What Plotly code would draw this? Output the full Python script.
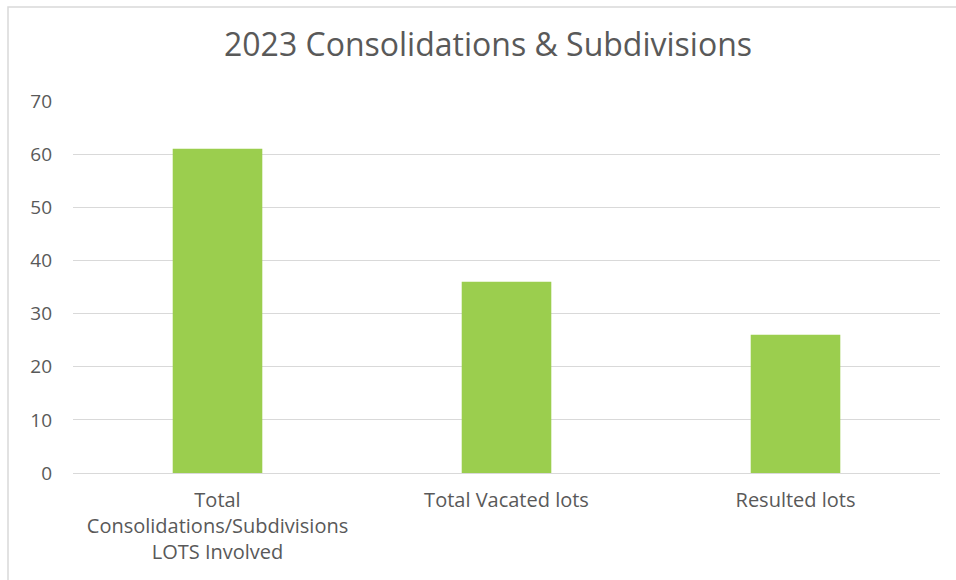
import plotly.graph_objects as go

categories = [
    "Total<br>Consolidations/Subdivisions<br>LOTS Involved",
    "Total Vacated lots",
    "Resulted lots",
]
values = [61, 36, 26]
y_ticks = [0, 10, 20, 30, 40, 50, 60, 70]

W, H = 956, 580
L, R, T, B = 73, 16, 101, 107
plot_w = W - L - R
plot_h = H - T - B

text_color = "#595959"
font_family = "'Open Sans', Lato, sans-serif"

fig = go.Figure(
    go.Bar(
        x=categories,
        y=values,
        marker=dict(color="#9BCE4E", line=dict(width=0)),
        width=0.31,
        hoverinfo="x+y",
    )
)

fig.update_layout(
    width=W,
    height=H,
    margin=dict(l=L, r=R, t=T, b=B, pad=0),
    paper_bgcolor="white",
    plot_bgcolor="white",
    showlegend=False,
    font=dict(family=font_family, color=text_color, size=19),
    title=dict(
        text="2023 Consolidations & Subdivisions",
        x=488 / W,
        xanchor="center",
        xref="container",
        y=1 - 45 / H,
        yanchor="middle",
        yref="container",
        font=dict(size=32, color=text_color, family=font_family),
    ),
    xaxis=dict(
        showgrid=False,
        showline=False,
        zeroline=False,
        ticks="",
        ticklabelstandoff=13,
        tickfont=dict(size=20, color=text_color),
    ),
    yaxis=dict(
        range=[0, 70],
        tickvals=y_ticks,
        showgrid=True,
        gridcolor="#D9D9D9",
        gridwidth=1.3,
        zeroline=True,
        zerolinecolor="#D9D9D9",
        zerolinewidth=1.3,
        showline=False,
        ticks="",
        ticklabelstandoff=20,
        tickfont=dict(size=19, color=text_color),
    ),
    shapes=[
        dict(
            type="rect",
            xref="paper",
            yref="paper",
            x0=(8 - L) / plot_w,
            x1=(W + 20 - L) / plot_w,
            y0=-(H + 20 - T - plot_h) / plot_h,
            y1=1 + (T - 7) / plot_h,
            line=dict(color="#D9D9D9", width=1.5),
            fillcolor="rgba(0,0,0,0)",
            layer="below",
        )
    ],
)

fig.write_html("out.html")
